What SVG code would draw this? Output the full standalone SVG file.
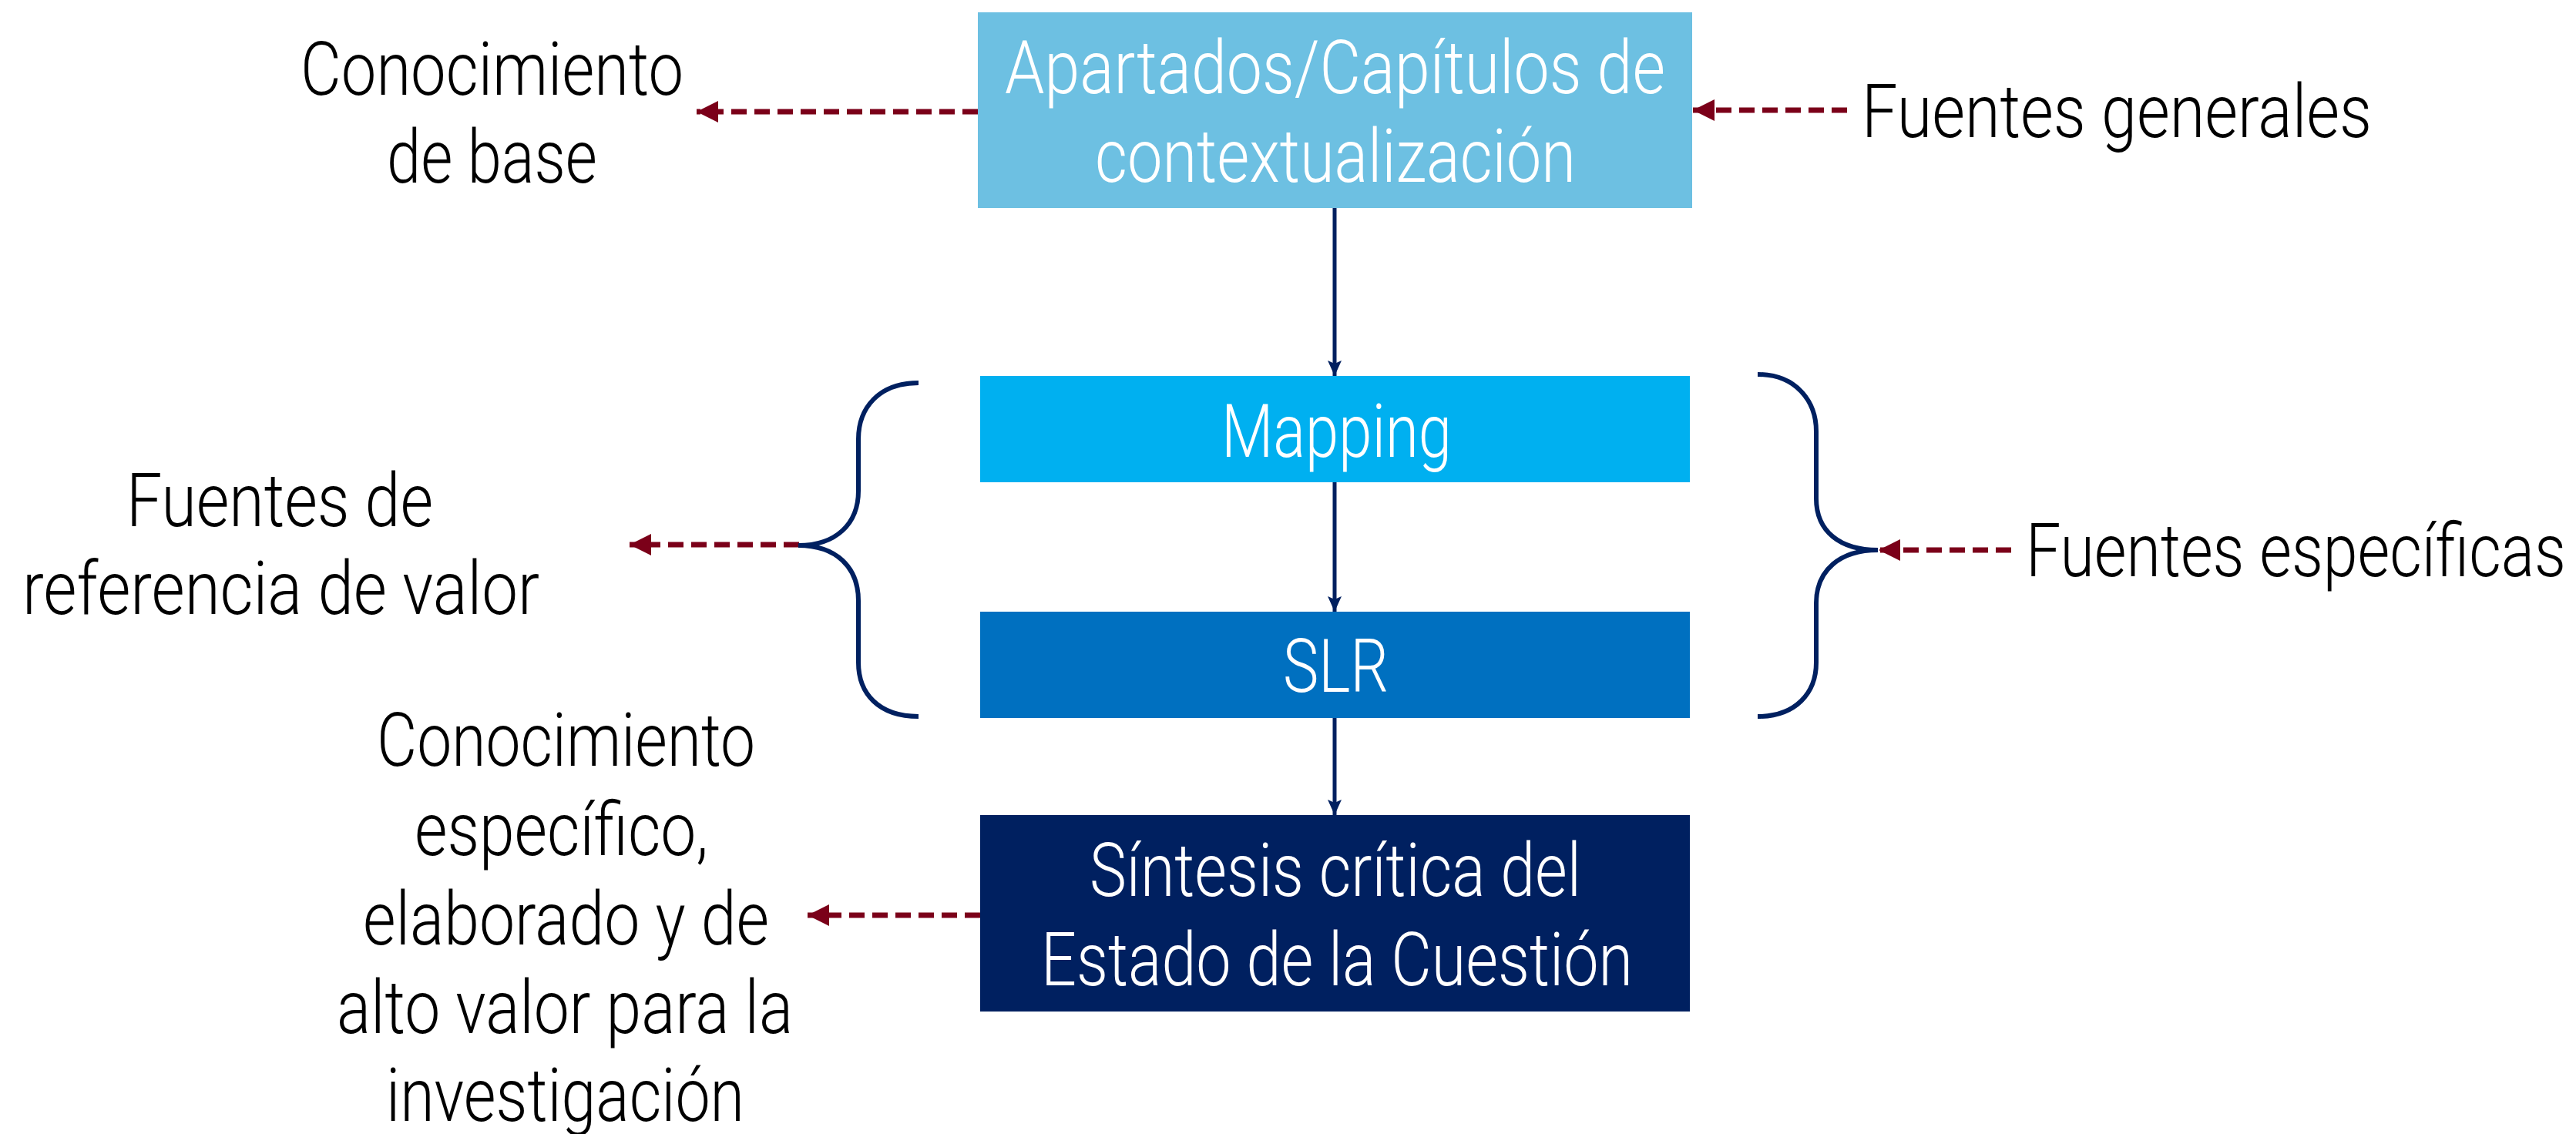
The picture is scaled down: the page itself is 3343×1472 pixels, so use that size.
<svg xmlns="http://www.w3.org/2000/svg" width="3343" height="1472" viewBox="0 0 3343 1472">
<style>
text{font-family:Roboto,"Liberation Sans",sans-serif;font-weight:300;font-size:97px;}
.w{fill:#ffffff;}
.k{fill:#000000;}
.flow{stroke:#002060;stroke-width:5;fill:none;}
.dash{stroke:#7B0019;stroke-width:7;stroke-dasharray:20 10;fill:none;}
.brace{stroke:#002060;stroke-width:6;fill:none;}
</style>
<defs>
<marker id="ah" markerUnits="userSpaceOnUse" markerWidth="20" markerHeight="22" refX="20" refY="9" orient="auto" viewBox="0 0 20 18">
<path d="M0,0 L20,9 L0,18 L4,9 Z" fill="#002060"/>
</marker>
<marker id="ahr" markerUnits="userSpaceOnUse" markerWidth="30" markerHeight="30" refX="28" refY="14" orient="auto" viewBox="0 0 30 28">
<path d="M0,0 L28,14 L0,28 Z" fill="#7B0019"/>
</marker>
</defs>
<rect width="3343" height="1472" fill="#ffffff"/>

<g id="connectors">
<line class="flow" x1="1732" y1="270" x2="1732" y2="488" marker-end="url(#ah)"/>
<line class="flow" x1="1732" y1="626" x2="1732" y2="794" marker-end="url(#ah)"/>
<line class="flow" x1="1732" y1="932" x2="1732" y2="1058" marker-end="url(#ah)"/>
<line class="dash" x1="1269" y1="145" x2="904" y2="145" marker-end="url(#ahr)"/>
<line class="dash" x1="2397" y1="143" x2="2197" y2="143" marker-end="url(#ahr)"/>
<line class="dash" x1="1037" y1="707" x2="817" y2="707" marker-end="url(#ahr)"/>
<line class="dash" x1="2610" y1="714" x2="2438" y2="714" marker-end="url(#ahr)"/>
<line class="dash" x1="1272" y1="1188" x2="1048" y2="1188" marker-end="url(#ahr)"/>
<path class="brace" d="M1192,497 C1140,497 1114,530 1114,570 L1114,637 C1114,680 1085,708 1036,708 C1085,708 1114,736 1114,780 L1114,860 C1114,900 1140,930 1192,930"/>
<path class="brace" d="M2281,486 C2330,486 2357,520 2357,560 L2357,647 C2357,690 2388,714 2437,714 C2388,714 2357,740 2357,783 L2357,860 C2357,900 2330,930 2281,930"/>
</g>

<g id="node-contexto">
<rect x="1269" y="16" width="927" height="254" fill="#6DC0E2"/>
<text class="w" x="1304" y="121" textLength="857" lengthAdjust="spacingAndGlyphs">Apartados/Capítulos de</text>
<text class="w" x="1421" y="236" textLength="624" lengthAdjust="spacingAndGlyphs">contextualización</text>
</g>

<g id="node-mapping">
<rect x="1272" y="488" width="921" height="138" fill="#00B0F0"/>
<text class="w" x="1585" y="593" textLength="299" lengthAdjust="spacingAndGlyphs">Mapping</text>
</g>

<g id="node-slr">
<rect x="1272" y="794" width="921" height="138" fill="#0070C0"/>
<text class="w" x="1665" y="898" textLength="137" lengthAdjust="spacingAndGlyphs">SLR</text>
</g>

<g id="node-sintesis">
<rect x="1272" y="1058" width="921" height="255" fill="#002060"/>
<text class="w" x="1414" y="1163" textLength="638" lengthAdjust="spacingAndGlyphs">Síntesis crítica del</text>
<text class="w" x="1351" y="1279" textLength="768" lengthAdjust="spacingAndGlyphs">Estado de la Cuestión</text>
</g>

<g id="label-conocimiento-base">
<text class="k" x="390" y="123" textLength="497" lengthAdjust="spacingAndGlyphs">Conocimiento</text>
<text class="k" x="502" y="237" textLength="273" lengthAdjust="spacingAndGlyphs">de base</text>
</g>

<g id="label-fuentes-generales">
<text class="k" x="2416" y="178" textLength="662" lengthAdjust="spacingAndGlyphs">Fuentes generales</text>
</g>

<g id="label-fuentes-referencia">
<text class="k" x="164" y="683" textLength="398" lengthAdjust="spacingAndGlyphs">Fuentes de</text>
<text class="k" x="29" y="797" textLength="671" lengthAdjust="spacingAndGlyphs">referencia de valor</text>
</g>

<g id="label-fuentes-especificas">
<text class="k" x="2629" y="748" textLength="701" lengthAdjust="spacingAndGlyphs">Fuentes específicas</text>
</g>

<g id="label-conocimiento-especifico">
<text class="k" x="489" y="994" textLength="491" lengthAdjust="spacingAndGlyphs">Conocimiento</text>
<text class="k" x="538" y="1110" textLength="381" lengthAdjust="spacingAndGlyphs">específico,</text>
<text class="k" x="471" y="1226" textLength="527" lengthAdjust="spacingAndGlyphs">elaborado y de</text>
<text class="k" x="437" y="1341" textLength="592" lengthAdjust="spacingAndGlyphs">alto valor para la</text>
<text class="k" x="501" y="1455" textLength="465" lengthAdjust="spacingAndGlyphs">investigación</text>
</g>
</svg>
